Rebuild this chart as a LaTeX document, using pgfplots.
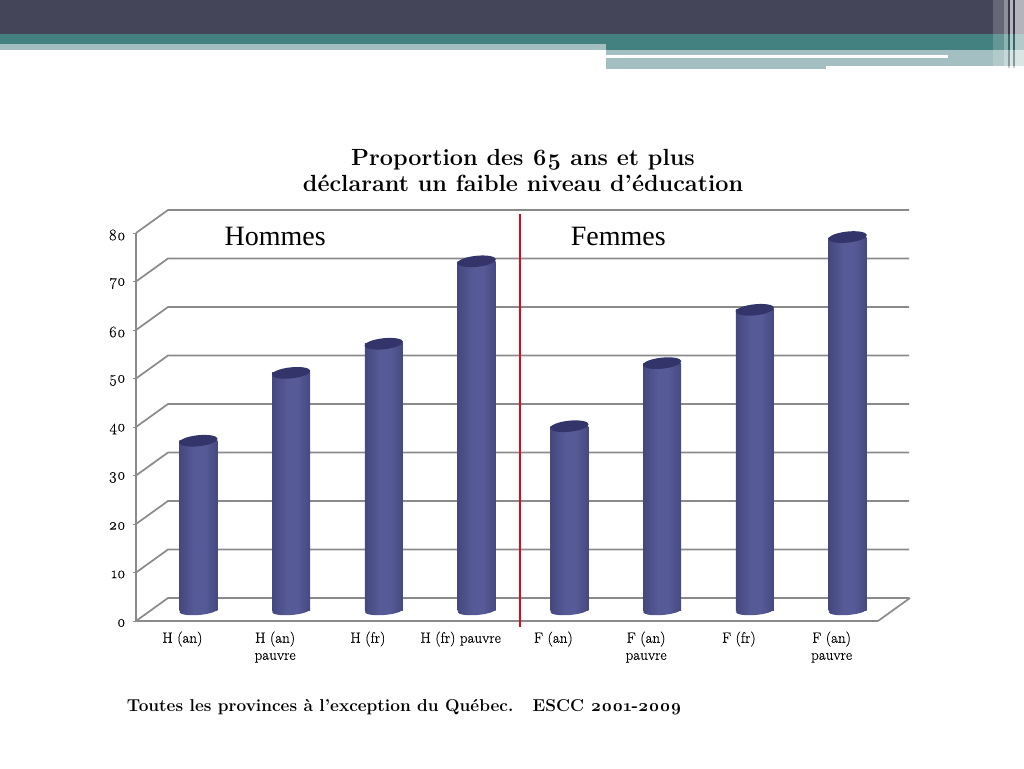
\documentclass[border=0pt]{standalone}
\usepackage{fontspec}
\setmainfont{Latin Modern Roman}[Numbers=OldStyle]
\newfontfamily\labelfont{Liberation Serif}
\newfontfamily\tickfont{Latin Modern Roman}[Numbers=OldStyle,FakeBold=0.3]
\usepackage{pgfplots}
\usepackage{pgfplotstable}
\pgfplotsset{compat=1.18}
\definecolor{headdark}{HTML}{45455A}
\definecolor{headteal}{HTML}{42817F}
\definecolor{headlight}{HTML}{A3BFC2}
\definecolor{wall}{HTML}{8A8A8A}
\definecolor{captop}{HTML}{33356A}
\definecolor{cylA}{HTML}{2E2F5C}
\definecolor{cylB}{HTML}{3A3C70}
\definecolor{cylC}{HTML}{565A96}
\definecolor{cylD}{HTML}{2B2C56}
\pgfdeclarehorizontalshading{cyl}{100bp}{
  color(0bp)=(cylA); color(12bp)=(cylB); color(45bp)=(cylC);
  color(58bp)=(cylC); color(88bp)=(cylB); color(100bp)=(cylD)}
\pgfdeclareplotmark{cyltop}{%
  \pgfpathellipse{\pgfpointorigin}{\pgfqpoint{19.2pt}{2pt}}{\pgfqpoint{-.5pt}{5.5pt}}%
  \pgfsetfillcolor{captop}\pgfusepathqfill}
\pgfdeclareplotmark{cylbase}{%
  \pgfpathellipse{\pgfpointorigin}{\pgfqpoint{18.9pt}{1.5pt}}{\pgfqpoint{-.3pt}{4.5pt}}%
  \pgfshadepath{cyl}{0}\pgfusepath{discard}}
\pgfplotstableread{
pos value base
0 35 0
1 49 0
2 55 0
3 72 0
4 38 0
5 51 0
6 62 0
7 77 0
}\edudata
\begin{document}
\begin{tikzpicture}
\useasboundingbox (0,0) rectangle (1024pt,768pt);
% slide header
\begin{scope}[x=1pt,y=-1pt,yshift=768pt]
  \fill[headdark] (0,0) rectangle (1024,34);
  \fill[headteal] (0,34) rectangle (1024,50);
  \fill[headlight] (0,44.5) rectangle (606,50);
  \fill[headlight] (606,50) rectangle (1024,66);
  \fill[headlight] (606,66) rectangle (826,69);
  \fill[white] (606,55.5) rectangle (948,58);
  \fill[white,opacity=.18] (993,0) rectangle (1004,66);
  \fill[white,opacity=.4] (1004,0) rectangle (1008,68);
  \fill[black,opacity=.2] (1008,0) rectangle (1009.5,68);
  \fill[white,opacity=.6] (1009.5,0) rectangle (1013,68);
  \fill[black,opacity=.2] (1013,0) rectangle (1014.5,68);
  \fill[white,opacity=.6] (1014.5,0) rectangle (1024,68);
\end{scope}
\begin{axis}[
  at={(136pt,147pt)},anchor=south west,
  scale only axis,width=742pt,height=388pt,
  clip=false,
  xmin=-0.5,xmax=7.5,ymin=0,ymax=80,
  axis x line*=bottom,axis y line*=left,
  axis line style={wall,line width=1.7pt,-},
  xtick={0,...,7},
  xticklabels={H (an),H (an)\\pauvre,H (fr),H (fr) pauvre,F (an),F (an)\\pauvre,F (fr),F (an)\\pauvre},
  minor xtick={-0.5,0.5,...,7.5},
  ytick={0,10,...,80},
  tick align=outside,
  major tick length=3pt,
  x tick style={draw=none},
  minor tick length=3pt,
  minor tick style={wall,line width=1pt},
  y tick style={wall,line width=1pt},
  xticklabel style={font=\tickfont\fontsize{15}{17}\selectfont,black,align=center,anchor=north,yshift=-4pt},
  yticklabel style={font=\tickfont\fontsize{16}{17}\selectfont,black,/pgf/number format/assume math mode=true,xshift=-4pt,yshift=-2pt},
  title={Proportion des 65 ans et plus\\déclarant un faible niveau d'éducation},
  title style={font=\fontsize{23.4}{26}\selectfont\bfseries,align=center,at={(0.5216,1)},anchor=south,yshift=32pt},
]
% walls
\pgfplotsinvokeforeach{0,10,...,80}{
  \draw[wall,line width=1.7pt] (axis cs:-0.5,#1) -- ++(32pt,23pt) -- ++(741pt,0pt);
}
\draw[wall,line width=1.7pt] (axis cs:7.5,0) -- ++(32pt,23pt);
% cylinders, one plot per bar so that each gets its own shading
\addplot[mark=cylbase,only marks,xshift=16pt,yshift=10.5pt] table[x=pos,y=base] {\edudata};
\pgfplotsinvokeforeach{0,...,7}{
  \addplot[ybar,bar width=38pt,bar shift=16pt,yshift=10.5pt,draw=none,shading=cyl,
    restrict x to domain=#1:#1] table[x=pos,y=value] {\edudata};
}
\addplot[mark=cyltop,only marks,xshift=16pt,yshift=10.5pt] table[x=pos,y=value] {\edudata};
% separator
\addplot[color={rgb,255:red,221;green,10;blue,26},line width=2pt] coordinates {(3.64,-1.24) (3.64,83.9)};
\node[font=\labelfont\fontsize{28}{30}\selectfont] at (axis cs:1.0,79.3) {Hommes};
\node[font=\labelfont\fontsize{28}{30}\selectfont] at (axis cs:4.7,79.3) {Femmes};
\node[anchor=west,inner sep=0pt,font=\fontsize{17.2}{20}\selectfont\bfseries] at (axis cs:-0.6,-17.7) {Toutes les provinces à l’exception du Québec.\ \ \ ESCC 2001-2009};
\end{axis}
\end{tikzpicture}
\end{document}
